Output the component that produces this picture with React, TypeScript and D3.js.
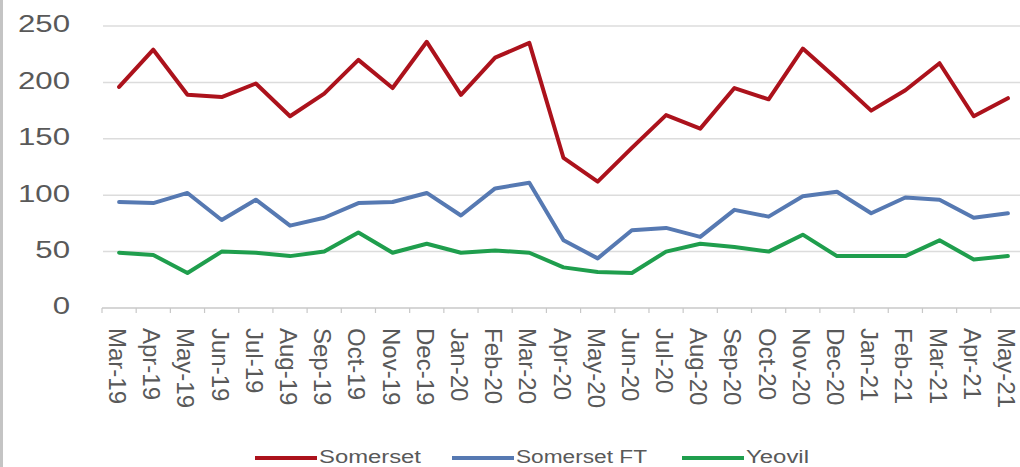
import React, { useEffect } from "react";
import * as d3 from "d3";

const months = [
  "Mar-19", "Apr-19", "May-19", "Jun-19", "Jul-19", "Aug-19", "Sep-19", "Oct-19", "Nov-19", "Dec-19",
  "Jan-20", "Feb-20", "Mar-20", "Apr-20", "May-20", "Jun-20", "Jul-20", "Aug-20", "Sep-20", "Oct-20",
  "Nov-20", "Dec-20", "Jan-21", "Feb-21", "Mar-21", "Apr-21", "May-21",
];

const somerset = [
  196, 229, 189, 187, 199, 170, 190, 220, 195, 236,
  189, 222, 235, 133, 112, 142, 171, 159, 195, 185,
  230, 203, 175, 193, 217, 170, 186,
];

const somersetFT = [
  94, 93, 102, 78, 96, 73, 80, 93, 94, 102,
  82, 106, 111, 60, 44, 69, 71, 63, 87, 81,
  99, 103, 84, 98, 96, 80, 84,
];

const yeovil = [
  49, 47, 31, 50, 49, 46, 50, 67, 49, 57,
  49, 51, 49, 36, 32, 31, 50, 57, 54, 50,
  65, 46, 46, 46, 60, 43, 46,
];

const yTicks = [0, 50, 100, 150, 200, 250];

const series = [
  { name: "Somerset", values: somerset, color: "#AC121C" },
  { name: "Somerset FT", values: somersetFT, color: "#5679B2" },
  { name: "Yeovil", values: yeovil, color: "#1F9E4D" },
];

const W = 1020;
const H = 467;
const TXT = "#595959";
const FONT = "'Liberation Sans', Arial, sans-serif";

export default function App() {
  useEffect(() => {
    document.body.style.margin = "0";
  }, []);

  const x = d3.scaleBand<string>().domain(months).range([102, 1025]).padding(0);
  const y = d3.scaleLinear().domain([0, 250]).range([308, 26]);
  const cx = (m: string) => (x(m) as number) + x.bandwidth() / 2;

  const line = d3
    .line<number>()
    .x((_, i) => cx(months[i]))
    .y((v) => y(v));

  // legend layout: line swatch + label
  const legendItems = [
    { ...series[0], lx: 255, tw: 102 },
    { ...series[1], lx: 452, tw: 131 },
    { ...series[2], lx: 682, tw: 63 },
  ];

  return (
    <svg width={W} height={H} style={{ display: "block", background: "#fff" }} fontFamily={FONT}>
      <rect x={0} y={0} width={3} height={H} fill="#c4c4c4" />

      {/* gridlines */}
      {yTicks.filter((t) => t > 0).map((t) => (
        <line key={t} x1={103} x2={W} y1={y(t)} y2={y(t)} stroke="#dcdcdc" strokeWidth={1.5} />
      ))}

      {/* y labels */}
      {yTicks.map((t) => (
        <text
          key={t}
          transform={`translate(70,${y(t)}) scale(1.3,1)`}
          textAnchor="end"
          dominantBaseline="middle"
          fontSize={24}
          fill={TXT}
        >
          {t}
        </text>
      ))}

      {/* x axis */}
      <line x1={102} x2={W} y1={y(0)} y2={y(0)} stroke="#c8c8c8" strokeWidth={1.5} />
      {months.map((m) => (
        <line key={m} x1={x(m)} x2={x(m)} y1={y(0)} y2={y(0) + 5} stroke="#c8c8c8" strokeWidth={1.2} />
      ))}
      {months.map((m) => (
        <text
          key={m}
          transform={`translate(${cx(m) - 10},328) rotate(90)`}
          textAnchor="start"
          fontSize={24}
          fill={TXT}
        >
          {m}
        </text>
      ))}

      {/* series lines */}
      {series.map((s) => (
        <path
          key={s.name}
          d={line(s.values) || ""}
          fill="none"
          stroke={s.color}
          strokeWidth={4}
          strokeLinejoin="round"
          strokeLinecap="round"
        />
      ))}

      {/* legend */}
      {legendItems.map((s) => (
        <g key={s.name}>
          <line x1={s.lx} x2={s.lx + 62} y1={458} y2={458} stroke={s.color} strokeWidth={4} />
          <text
            x={s.lx + 64}
            y={458}
            dominantBaseline="middle"
            fontSize={18}
            fill={TXT}
            textLength={s.tw}
            lengthAdjust="spacingAndGlyphs"
          >
            {s.name}
          </text>
        </g>
      ))}
    </svg>
  );
}
